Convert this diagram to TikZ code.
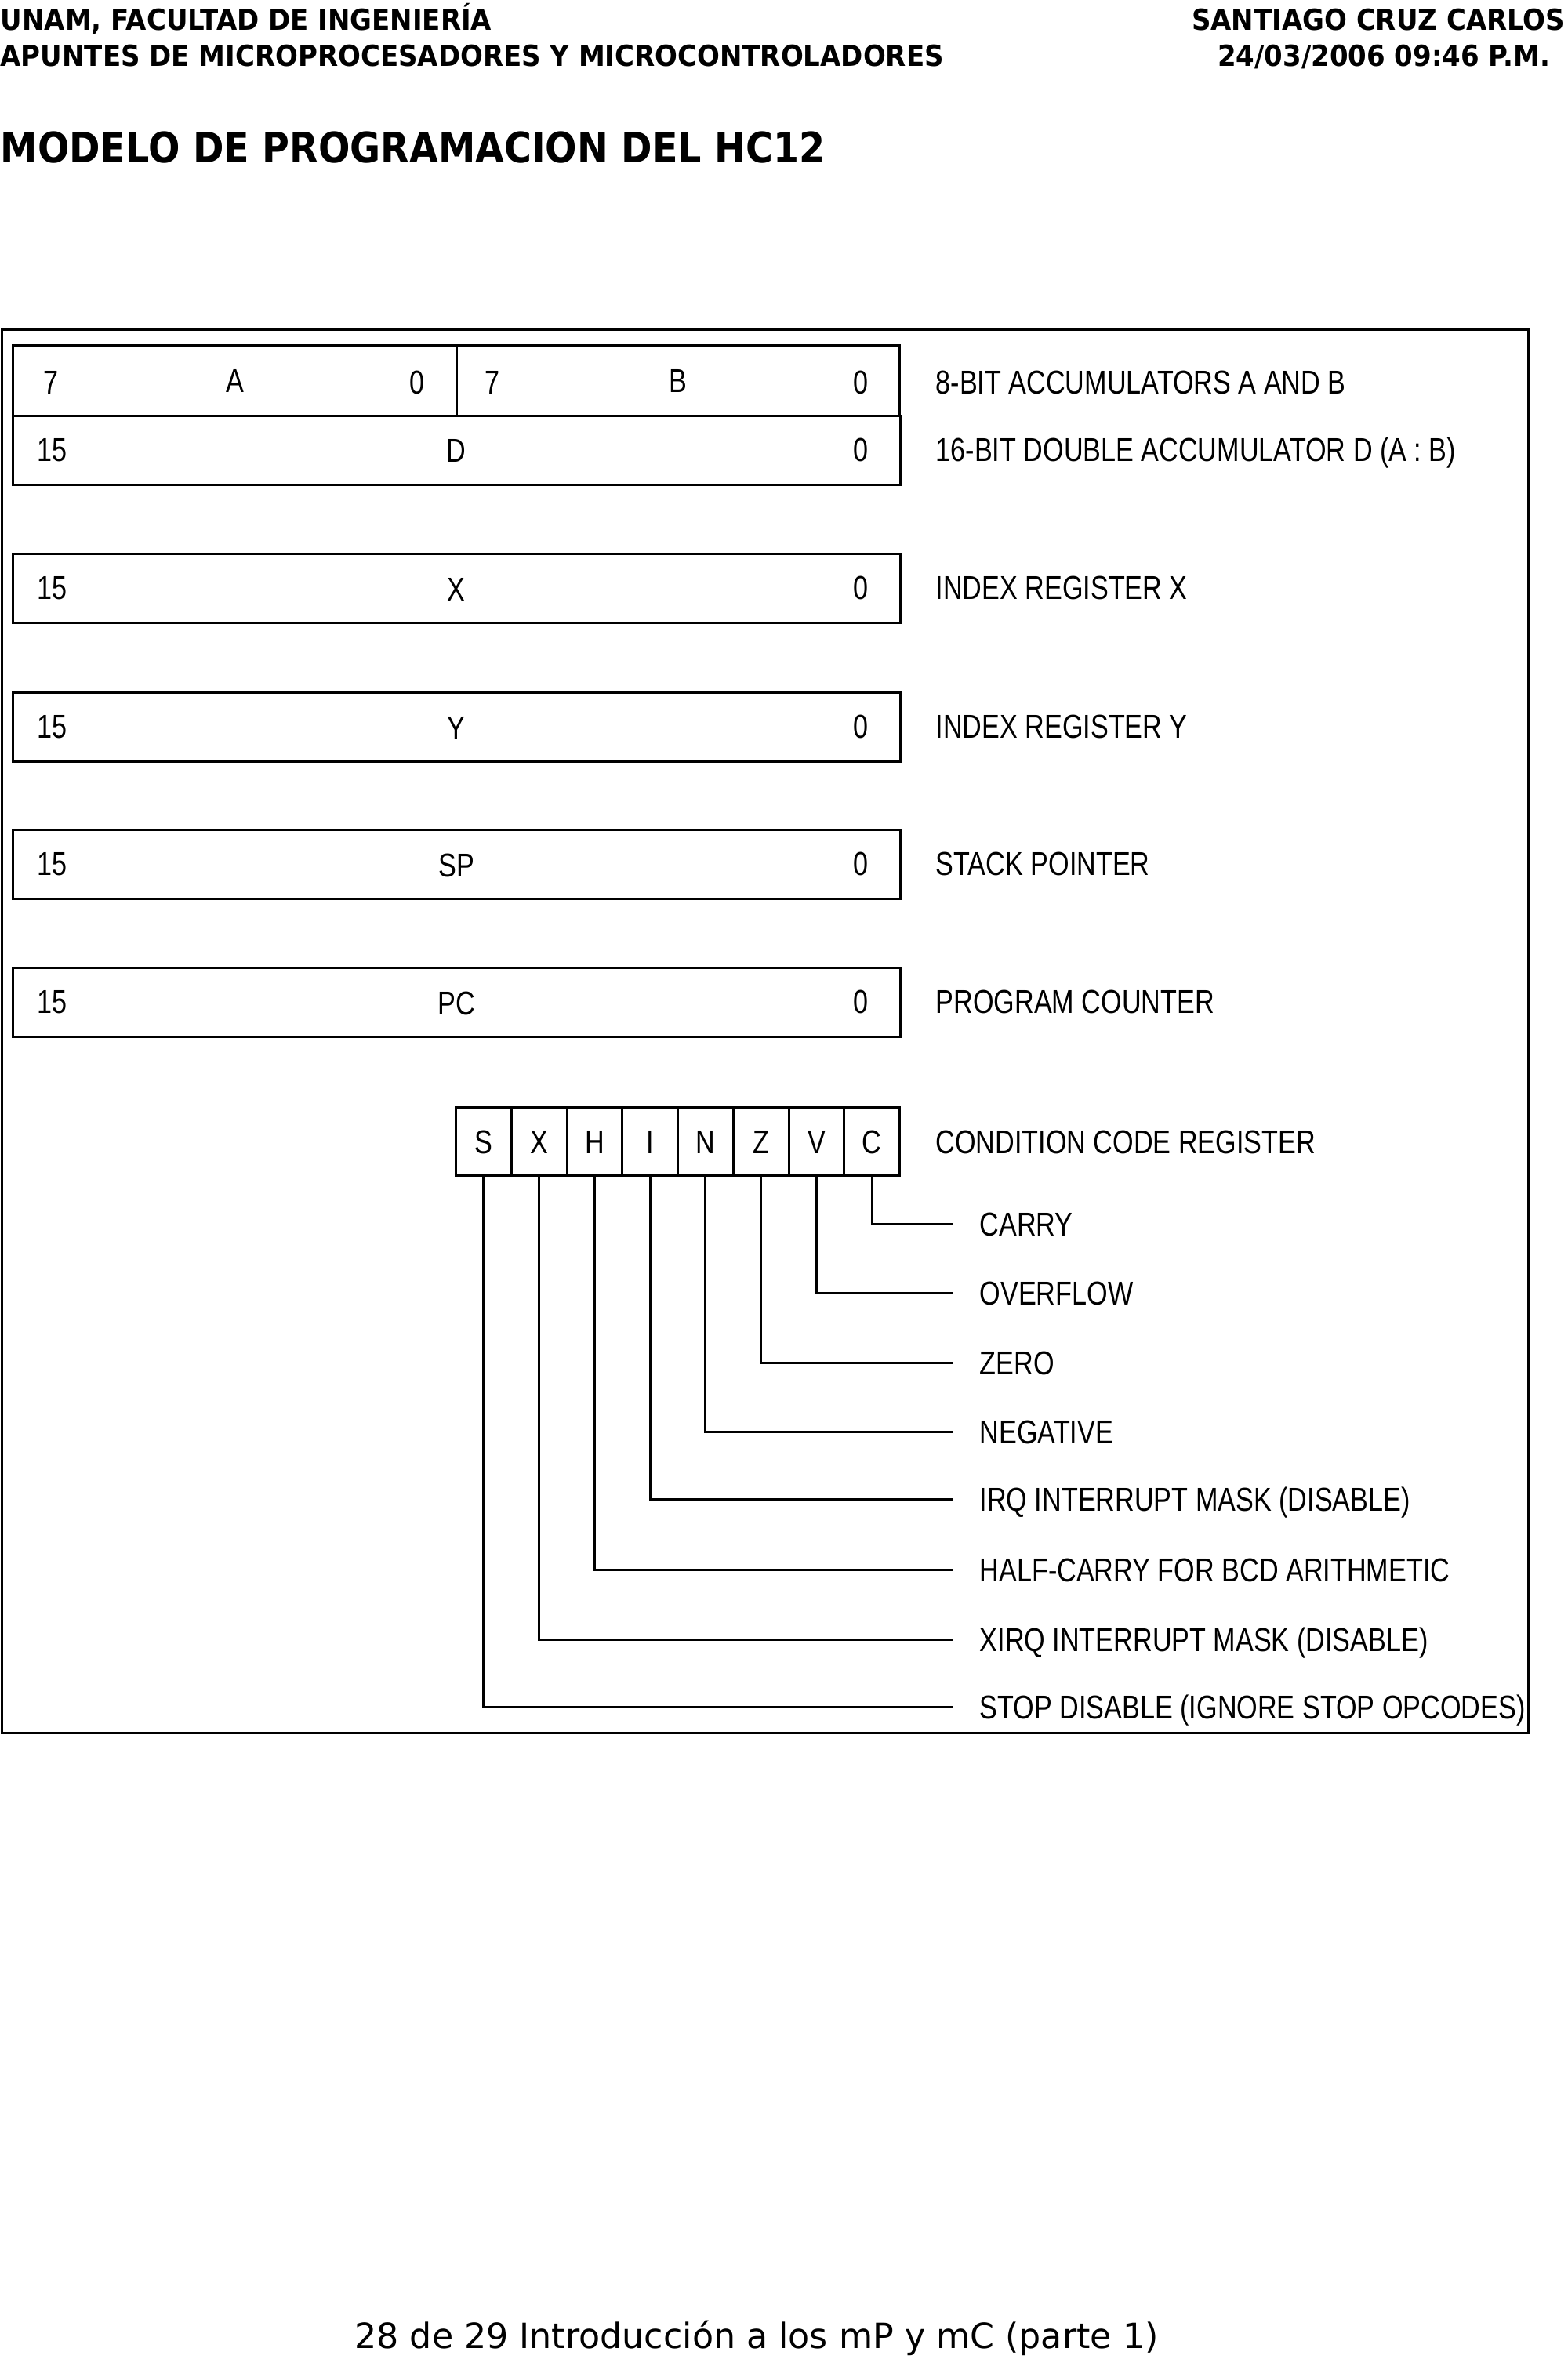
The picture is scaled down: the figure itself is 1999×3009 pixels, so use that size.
\documentclass[tikz,border=0pt]{standalone}
\usepackage{fontspec}
\setmainfont{DejaVu Sans}
\newfontfamily\diag{Liberation Sans}[FakeStretch=0.81]
\newfontfamily\hdr{DejaVu Sans}[FakeStretch=0.92]
\newfontfamily\ttl{DejaVu Sans}[FakeStretch=0.89]
\newfontfamily\ftr{DejaVu Sans}
\tikzset{
  diagtxt/.style={font=\diag\fontsize{12}{14}\selectfont, inner sep=0pt, text height=8.8pt, text depth=0pt},
  regbox/.style={draw, line width=0.85pt, minimum width=11.31cm, minimum height=0.88cm, inner sep=0pt, anchor=north west, diagtxt},
  halfbox/.style={regbox, minimum width=5.655cm, minimum height=0.90cm},
  lbl/.style={diagtxt, anchor=west},
  cell/.style={draw, line width=0.85pt, minimum width=0.7075cm, minimum height=0.87cm, inner sep=0pt, anchor=north west, diagtxt},
  flaglbl/.style={diagtxt, anchor=west, inner xsep=0.33cm},
  leader/.style={line width=0.85pt},
  hdrtxt/.style={font=\hdr\bfseries\fontsize{10.5}{12}\selectfont, inner sep=0pt, text height=7.7pt, text depth=0pt},
  titletxt/.style={font=\ttl\bfseries\fontsize{15.2}{17}\selectfont, inner sep=0pt, text height=11.1pt, text depth=0pt, anchor=west},
  foottxt/.style={font=\ftr\fontsize{12.6}{14}\selectfont, inner sep=0pt, text height=9.2pt, text depth=0pt},
}
\begin{document}
\begin{tikzpicture}[x=0.01cm,y=-0.01cm]
\useasboundingbox (0,0) rectangle (1999,3009);
% header
\node[hdrtxt, anchor=west] (h1) at (0,25) {UNAM, FACULTAD DE INGENIERÍA};
\node[hdrtxt, anchor=west] (h2) at (0,71) {APUNTES DE MICROPROCESADORES Y MICROCONTROLADORES};
\node[hdrtxt, anchor=east] (h3) at (1997,25) {SANTIAGO CRUZ CARLOS};
\node[hdrtxt] (h4) at (1765,71) {24/03/2006 09:46 P.M.};
\node[titletxt] (title) at (0,188) {MODELO DE PROGRAMACION DEL HC12};
% frame
\node[draw, line width=0.9pt, minimum width=19.46cm, minimum height=17.89cm, inner sep=0pt, anchor=north west] (frame) at (1,419) {};
% accumulators
\node[halfbox] (A) at (15,439) {A};
\node[halfbox] (B) at (580.5,439) {B};
\node[diagtxt] (a7) at (65,487) {7};
\node[diagtxt] (a0) at (532,487) {0};
\node[diagtxt] (b7) at (628,487) {7};
\node[diagtxt] (b0) at (1098,487) {0};
\node[regbox] (D) at (15,529) {D};
\node[diagtxt] (d15) at (67,573) {15};
\node[diagtxt] (d0) at (1098,573) {0};
\node[lbl] (lAB) at (1193,487) {8-BIT ACCUMULATORS A AND B};
\node[lbl] (lD) at (1193,573) {16-BIT DOUBLE ACCUMULATOR D (A : B)};
% 16-bit registers
\foreach \n/\t/\y/\lab in {X/X/705/INDEX REGISTER X, Y/Y/882/INDEX REGISTER Y, SP/SP/1057/STACK POINTER, PC/PC/1233/PROGRAM COUNTER}{
  \node[regbox] (\n) at (15,\y) {\t};
  \node[diagtxt] (\n15) at (67,\y+44) {15};
  \node[diagtxt] (\n0) at (1098,\y+44) {0};
  \node[lbl] (l\n) at (1193,\y+44) {\lab};
}
% condition code register
\foreach \l [count=\i from 0] in {S,X,H,I,N,Z,V,C}{
  \node[cell] (c\l) at ({580+70.75*\i},1411) {\l};
}
\node[lbl] (lCCR) at (1193,1456) {CONDITION CODE REGISTER};
\foreach \l/\y/\lab in {C/1561/CARRY, V/1649/OVERFLOW, Z/1738/ZERO, N/1826/NEGATIVE, I/1912/IRQ INTERRUPT MASK (DISABLE), H/2002/HALF-CARRY FOR BCD ARITHMETIC, X/2091/XIRQ INTERRUPT MASK (DISABLE), S/2177/STOP DISABLE (IGNORE STOP OPCODES)}{
  \node[flaglbl] (f\l) at (1216,\y) {\lab};
  \draw[leader] (c\l.south) |- (f\l.west);
}
% footer
\node[foottxt] (foot) at (965,2979) {28 de 29 Introducción a los mP y mC (parte 1)};
\end{tikzpicture}
\end{document}
